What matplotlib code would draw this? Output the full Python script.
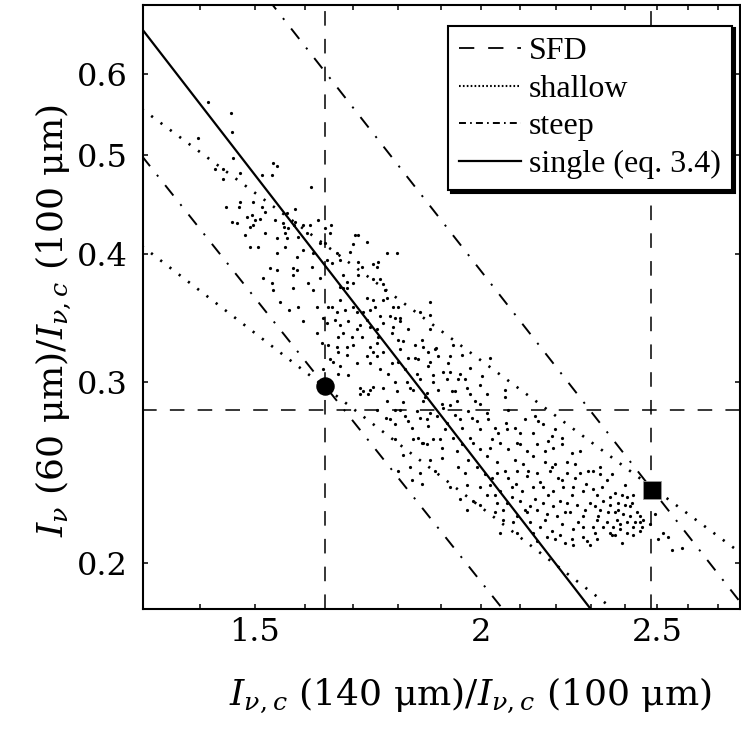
import matplotlib
matplotlib.use("Agg")
import matplotlib.pyplot as plt
from matplotlib.lines import Line2D
from matplotlib.ticker import FixedLocator, FixedFormatter, NullLocator, NullFormatter

plt.rcParams['font.family'] = ['DejaVu Serif']
plt.rcParams['mathtext.fontset'] = 'dejavuserif'
plt.rcParams['lines.scale_dashes'] = False

# axes ranges / ticks
xlim = (1.302, 2.778)
ylim = (0.1803, 0.7003)
xticks = [1.5, 2, 2.5]
xtick_labels = ['1.5', '2', '2.5']
xminor = [1.4, 1.6, 1.7, 1.8, 1.9, 2.1, 2.2, 2.3, 2.4, 2.6, 2.7]
yticks = [0.2, 0.3, 0.4, 0.5, 0.6]
ytick_labels = ['0.2', '0.3', '0.4', '0.5', '0.6']

# model curves (straight in log-log)
single_x = [1.30, 2.30]
single_y = [0.664, 0.180]
shallow_hi_x = [1.30, 2.80]
shallow_hi_y = [0.5545, 0.2026]
shallow_lo_x = [1.30, 2.40]
shallow_lo_y = [0.4076, 0.1767]
steep_hi_x = [1.52, 2.80]
steep_hi_y = [0.716, 0.180]
steep_lo_x = [1.30, 2.057]
steep_lo_y = [0.499, 0.180]

# SFD points (circle, square) and reference lines
sfd_x = [1.641, 2.484]
sfd_y = [0.2975, 0.2355]
sfd_vlines = [1.641, 2.480]
sfd_hline = 0.282

legend_labels = ['SFD', 'shallow', 'steep', 'single (eq. 3.4)']

cloud_top = [
    (1.414, 0.563), (1.456, 0.550), (1.458, 0.526), (1.396, 0.520), (1.460, 0.497),
    (1.536, 0.491), (1.544, 0.488), (1.427, 0.484), (1.441, 0.485), (1.473, 0.480),
    (1.515, 0.478), (1.534, 0.478), (1.441, 0.474), (1.612, 0.465),
    (1.473, 0.450), (1.497, 0.450), (1.515, 0.445), (1.492, 0.425), (1.482, 0.418),
    (1.520, 0.420), (1.564, 0.439), (1.579, 0.443), (1.610, 0.427), (1.558, 0.425),
    (1.566, 0.424), (1.577, 0.427), (1.585, 0.416), (1.641, 0.424), (1.511, 0.433),
]
cloud_left = [
    (1.447, 0.445), (1.471, 0.445), (1.458, 0.430), (1.467, 0.429), (1.486, 0.435),
    (1.496, 0.437), (1.501, 0.432), (1.497, 0.427), (1.520, 0.440), (1.540, 0.432),
    (1.556, 0.429), (1.579, 0.430), (1.595, 0.427), (1.626, 0.432), (1.653, 0.427),
    (1.651, 0.420), (1.544, 0.415), (1.560, 0.420), (1.564, 0.415), (1.603, 0.420),
    (1.492, 0.407), (1.507, 0.407), (1.544, 0.401), (1.560, 0.407), (1.583, 0.398),
    (1.595, 0.404), (1.616, 0.401), (1.630, 0.410), (1.641, 0.410), (1.704, 0.418),
    (1.711, 0.418), (1.731, 0.411), (1.700, 0.409), (1.694, 0.402), (1.666, 0.401),
    (1.672, 0.395), (1.530, 0.388), (1.544, 0.386), (1.575, 0.388), (1.583, 0.386),
    (1.614, 0.389), (1.645, 0.395), (1.655, 0.392), (1.711, 0.393), (1.720, 0.389),
    (1.744, 0.391), (1.755, 0.393), (1.516, 0.379), (1.534, 0.375), (1.536, 0.369),
    (1.575, 0.382), (1.606, 0.375), (1.630, 0.379), (1.678, 0.382), (1.687, 0.376),
    (1.700, 0.375), (1.711, 0.382), (1.672, 0.372), (1.678, 0.371), (1.687, 0.371),
    (1.744, 0.378), (1.575, 0.371), (1.616, 0.369), (1.672, 0.361), (1.731, 0.363),
    (1.744, 0.361), (1.550, 0.359), (1.568, 0.353), (1.585, 0.355), (1.624, 0.355),
    (1.647, 0.355), (1.655, 0.355), (1.666, 0.351), (1.683, 0.353), (1.700, 0.355),
    (1.709, 0.351), (1.722, 0.351), (1.737, 0.353), (1.748, 0.355), (1.595, 0.344),
    (1.636, 0.347), (1.645, 0.343), (1.662, 0.345), (1.672, 0.341), (1.689, 0.344),
    (1.715, 0.341), (1.731, 0.345), (1.737, 0.340), (1.752, 0.338), (1.624, 0.335),
    (1.668, 0.332), (1.678, 0.335), (1.698, 0.332), (1.709, 0.338), (1.720, 0.332),
    (1.755, 0.332), (1.634, 0.328), (1.647, 0.326), (1.666, 0.325), (1.687, 0.325),
    (1.700, 0.326), (1.737, 0.325), (1.752, 0.328), (1.668, 0.321), (1.687, 0.319),
    (1.731, 0.318), (1.744, 0.321), (1.651, 0.316), (1.657, 0.314), (1.672, 0.311),
    (1.709, 0.313), (1.737, 0.313), (1.752, 0.318), (1.636, 0.309), (1.668, 0.306),
    (1.689, 0.305), (1.715, 0.296), (1.722, 0.294), (1.737, 0.295), (1.744, 0.297),
    (1.715, 0.292), (1.733, 0.292), (1.752, 0.282),
]
cloud_mid = [
    (1.775, 0.401), (1.798, 0.401), (1.752, 0.389), (1.759, 0.378), (1.766, 0.374),
    (1.770, 0.369), (1.775, 0.363), (1.766, 0.361), (1.788, 0.355), (1.800, 0.355),
    (1.874, 0.359), (1.759, 0.348), (1.782, 0.348), (1.804, 0.347), (1.851, 0.351),
    (1.874, 0.349), (1.766, 0.343), (1.788, 0.340), (1.804, 0.344), (1.786, 0.335),
    (1.800, 0.330), (1.811, 0.329), (1.874, 0.338), (1.839, 0.326), (1.858, 0.325),
    (1.870, 0.321), (1.886, 0.323), (1.930, 0.326), (1.766, 0.321), (1.786, 0.313),
    (1.800, 0.314), (1.823, 0.317), (1.846, 0.316), (1.874, 0.314), (1.894, 0.318),
    (1.918, 0.313), (1.952, 0.319), (2.023, 0.317), (1.759, 0.309), (1.777, 0.306),
    (1.816, 0.309), (1.844, 0.306), (1.881, 0.305), (1.923, 0.307), (1.947, 0.306),
    (1.972, 0.310), (1.793, 0.300), (1.820, 0.300), (1.851, 0.302), (1.881, 0.300),
    (1.915, 0.302), (1.960, 0.302), (2.002, 0.304), (1.766, 0.296), (1.797, 0.294),
    (1.834, 0.295), (1.867, 0.293), (1.894, 0.295), (1.927, 0.294), (1.965, 0.296),
    (1.997, 0.298), (2.061, 0.295), (1.775, 0.288), (1.811, 0.287), (1.858, 0.288),
    (1.903, 0.286), (1.940, 0.288), (1.985, 0.288), (1.997, 0.286), (2.015, 0.292),
    (2.061, 0.290), (1.804, 0.282), (1.844, 0.281), (1.874, 0.280), (1.906, 0.283),
    (1.967, 0.281), (2.015, 0.280), (2.069, 0.282), (2.141, 0.278), (2.150, 0.275),
    (1.782, 0.276), (1.823, 0.275), (1.867, 0.276), (1.915, 0.274), (1.947, 0.276),
    (1.990, 0.275), (2.036, 0.271), (2.067, 0.270), (2.101, 0.268), (2.197, 0.270),
]
cloud_core = [
    (1.773, 0.277), (1.793, 0.273), (1.816, 0.278), (1.832, 0.271), (1.851, 0.277),
    (1.870, 0.272), (1.891, 0.278), (1.910, 0.270), (1.935, 0.279), (1.952, 0.271),
    (1.977, 0.277), (1.997, 0.270), (2.018, 0.276), (2.044, 0.268), (2.064, 0.274),
    (2.088, 0.271), (2.115, 0.276), (2.136, 0.268), (2.163, 0.273), (2.188, 0.266),
    (1.793, 0.264), (1.846, 0.265), (1.898, 0.264), (1.972, 0.265), (2.028, 0.264),
    (2.101, 0.261), (2.177, 0.263),
    (2.028, 0.242), (2.061, 0.246), (2.090, 0.239), (2.123, 0.246), (2.155, 0.240),
    (2.188, 0.248), (2.216, 0.241), (2.253, 0.242), (2.285, 0.239), (2.326, 0.248),
    (2.361, 0.244), (2.400, 0.238), (2.036, 0.233), (2.080, 0.232), (2.141, 0.231),
    (2.177, 0.233), (2.211, 0.230), (2.244, 0.233), (2.296, 0.229), (2.355, 0.228),
    (2.422, 0.229), (2.115, 0.225), (2.169, 0.220), (2.225, 0.224), (2.262, 0.219),
    (2.319, 0.222), (2.385, 0.218), (2.447, 0.215), (2.197, 0.211), (2.296, 0.208),
    (1.793, 0.347), (1.823, 0.338), (1.856, 0.330), (1.889, 0.324), (1.923, 0.318),
    (1.804, 0.323), (1.839, 0.317), (1.870, 0.311), (1.906, 0.307), (1.942, 0.302),
    (1.827, 0.296), (1.863, 0.290), (1.935, 0.294), (1.972, 0.292), (1.793, 0.282),
    (1.923, 0.285),
]
cloud_low = [
    (2.216, 0.265), (1.834, 0.264), (1.858, 0.262), (1.881, 0.264), (1.903, 0.259),
    (1.930, 0.265), (1.952, 0.261), (1.980, 0.262), (1.997, 0.258), (2.023, 0.259),
    (2.049, 0.262), (2.069, 0.258), (2.093, 0.262), (2.120, 0.257), (2.147, 0.261),
    (2.169, 0.257), (2.191, 0.259), (2.216, 0.261), (2.244, 0.256), (2.267, 0.257),
    (1.811, 0.255), (1.856, 0.262), (1.867, 0.261), (1.874, 0.252), (1.903, 0.253),
    (1.940, 0.257), (1.967, 0.252), (2.015, 0.254), (2.041, 0.251), (2.088, 0.252),
    (2.109, 0.250), (2.136, 0.254), (2.169, 0.251), (2.197, 0.250), (2.230, 0.251),
    (2.253, 0.250), (1.800, 0.246), (1.827, 0.248), (1.851, 0.245), (1.886, 0.246),
    (1.942, 0.248), (1.960, 0.245), (1.990, 0.248), (2.010, 0.244), (2.041, 0.245),
    (2.069, 0.242), (2.093, 0.246), (2.120, 0.243), (2.147, 0.245), (2.183, 0.246),
    (2.205, 0.242), (2.230, 0.245), (2.267, 0.245), (2.291, 0.246), (1.832, 0.241),
    (1.856, 0.239), (1.923, 0.237), (1.965, 0.238), (1.997, 0.237), (2.023, 0.238),
    (2.049, 0.235), (2.080, 0.237), (2.106, 0.235), (2.136, 0.237), (2.163, 0.237),
    (2.191, 0.235), (2.219, 0.237), (2.247, 0.237), (2.276, 0.235), (1.947, 0.231),
    (1.980, 0.230), (2.015, 0.233), (2.041, 0.229), (2.067, 0.229), (2.101, 0.230),
    (2.128, 0.227), (2.163, 0.229), (2.191, 0.227), (2.230, 0.229), (2.259, 0.228),
    (2.282, 0.225), (1.997, 0.228), (1.965, 0.225), (2.036, 0.224), (2.057, 0.225),
    (2.093, 0.222), (2.120, 0.224), (2.147, 0.225), (2.174, 0.223), (2.202, 0.222),
    (2.239, 0.224), (2.276, 0.222), (2.057, 0.220), (2.083, 0.219), (2.128, 0.219),
    (2.155, 0.217), (2.188, 0.215), (2.216, 0.218), (2.247, 0.216), (2.276, 0.217),
    (2.093, 0.214), (2.136, 0.214), (2.174, 0.212), (2.210, 0.213), (2.244, 0.211),
    (2.276, 0.212), (2.147, 0.210), (2.224, 0.209), (2.247, 0.208), (2.287, 0.210),
    (2.049, 0.214),
]
cloud_right = [
    (2.305, 0.246), (2.326, 0.244), (2.346, 0.241), (2.331, 0.237), (2.305, 0.236),
    (2.317, 0.233), (2.334, 0.230), (2.355, 0.232), (2.370, 0.234), (2.391, 0.233),
    (2.407, 0.232), (2.425, 0.233), (2.379, 0.229), (2.400, 0.228), (2.416, 0.227),
    (2.437, 0.224), (2.311, 0.227), (2.326, 0.225), (2.349, 0.224), (2.370, 0.224),
    (2.379, 0.225), (2.394, 0.223), (2.416, 0.222), (2.447, 0.222), (2.456, 0.220),
    (2.317, 0.220), (2.346, 0.219), (2.376, 0.220), (2.407, 0.219), (2.431, 0.219),
    (2.453, 0.217), (2.305, 0.217), (2.334, 0.217), (2.364, 0.217), (2.385, 0.216),
    (2.425, 0.217), (2.311, 0.214), (2.355, 0.214), (2.370, 0.213), (2.407, 0.214),
    (2.425, 0.213), (2.317, 0.211), (2.391, 0.209), (2.361, 0.213), (2.447, 0.219),
    (2.478, 0.218), (2.494, 0.223), (2.519, 0.214), (2.503, 0.211), (2.535, 0.212),
    (2.548, 0.206), (2.580, 0.207),
]

fig = plt.figure(figsize=(7.41, 7.31), dpi=100)
ax = fig.add_axes([143 / 741, 122 / 731, 597 / 741, 604 / 731])
ax.set_xscale('log')
ax.set_yscale('log')

dash_sfd = (10.5, 9.5)
dash_dot = (9.5, 8, 1.5, 8)
dot = (1.6, 6.8)

for cloud in [cloud_top, cloud_left, cloud_mid, cloud_core, cloud_low, cloud_right]:
    cx, cy = zip(*cloud)
    ax.plot(cx, cy, 'o', ms=2.3, mew=0, color='k', zorder=2)

ax.axvline(sfd_vlines[0], color='k', lw=1.1, dashes=dash_sfd, zorder=1)
ax.axvline(sfd_vlines[1], color='k', lw=1.1, dashes=dash_sfd, zorder=1)
ax.axhline(sfd_hline, xmin=1, xmax=0, color='k', lw=1.1, dashes=dash_sfd, zorder=1)

ax.plot(shallow_hi_x, shallow_hi_y, color='k', lw=1.9, dashes=dot)
ax.plot(shallow_lo_x, shallow_lo_y, color='k', lw=1.9, dashes=dot)
ax.plot(steep_hi_x, steep_hi_y, color='k', lw=1.4, dashes=dash_dot)
ax.plot(steep_lo_x, steep_lo_y, color='k', lw=1.4, dashes=dash_dot)
ax.plot(single_x, single_y, color='k', lw=1.6)

ax.plot(sfd_x[0], sfd_y[0], 'o', ms=12.3, color='k', zorder=4)
ax.plot(sfd_x[1], sfd_y[1], 's', ms=12.8, color='k', mec='0.6', mew=0.6, zorder=4)

ax.set_xlim(*xlim)
ax.set_ylim(*ylim)
ax.xaxis.set_major_locator(FixedLocator(xticks))
ax.xaxis.set_major_formatter(FixedFormatter(xtick_labels))
ax.xaxis.set_minor_locator(FixedLocator(xminor))
ax.xaxis.set_minor_formatter(NullFormatter())
ax.yaxis.set_major_locator(FixedLocator(yticks))
ax.yaxis.set_major_formatter(FixedFormatter(ytick_labels))
ax.yaxis.set_minor_locator(NullLocator())

ax.tick_params(which='both', direction='in', top=True, right=True,
               length=3.8, width=1.1, labelsize=23)
ax.tick_params(axis='x', pad=6)
ax.tick_params(axis='y', pad=11)
for sp in ax.spines.values():
    sp.set_linewidth(1.5)

ax.set_xlabel(r'$I_{\nu,c}$ (140 μm)/$I_{\nu,c}$ (100 μm)', fontsize=26)
ax.xaxis.set_label_coords(0.548, -0.11)
ax.set_ylabel(r'$I_{\nu}$ (60 μm)/$I_{\nu,c}$ (100 μm)', fontsize=26)
ax.yaxis.set_label_coords(-0.118, 0.478)

# legend samples drawn a bit denser than the plotted lines
handles = [Line2D([], [], color='k', lw=1.3, dashes=(11, 10)),
           Line2D([], [], color='k', lw=1.5, dashes=(1.2, 1.6)),
           Line2D([], [], color='k', lw=1.4, dashes=(5, 3, 1.2, 3)),
           Line2D([], [], color='k', lw=1.6)]
leg = ax.legend(handles, legend_labels,
                loc='upper right', bbox_to_anchor=(0.987, 0.966),
                prop={'family': 'Liberation Serif', 'size': 23},
                fancybox=False, framealpha=1, edgecolor='k',
                shadow={'color': 'k', 'alpha': 1},
                borderpad=0.35, labelspacing=0.26, handlelength=1.95,
                handletextpad=0.25, borderaxespad=0)
leg.get_frame().set_linewidth(1.5)

fig.savefig('out.png', dpi=100)
